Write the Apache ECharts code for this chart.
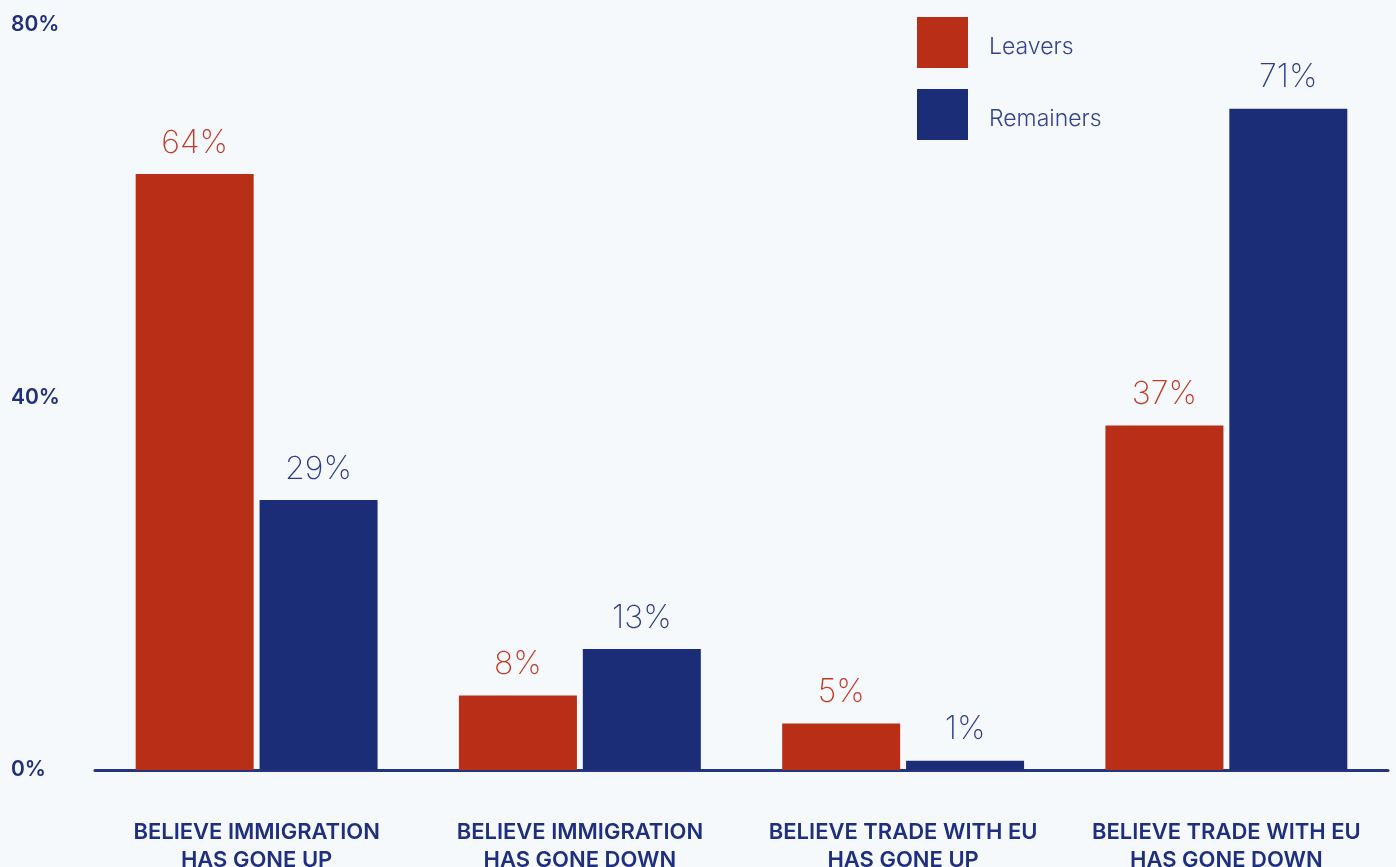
<!DOCTYPE html>
<html>
<head>
<meta charset="utf-8">
<title>Perceived change since Brexit</title>
<script src="https://cdn.jsdelivr.net/npm/echarts@6/dist/echarts.min.js"></script>
<style>
  html, body { margin: 0; padding: 0; background: #F6F9FC; }
  #chart { width: 1396px; height: 867px; }
</style>
</head>
<body>
<div id="chart"></div>
<script>
// Categories shown along the x axis
const categories = [
  'BELIEVE IMMIGRATION\nHAS GONE UP',
  'BELIEVE IMMIGRATION\nHAS GONE DOWN',
  'BELIEVE TRADE WITH EU\nHAS GONE UP',
  'BELIEVE TRADE WITH EU\nHAS GONE DOWN'
];
// Share of each group (%)
const leavers = [64, 8, 5, 37];
const remainers = [29, 13, 1, 71];
const seriesNames = ['Leavers', 'Remainers'];
// Value axis range and ticks (%)
const yMin = 0, yMax = 80, yStep = 40;

const FONT = 'Inter, "Noto Sans", sans-serif';
const RED = '#B82E17';
const NAVY = '#1C2D78';

const chart = echarts.init(document.getElementById('chart'), null, { renderer: 'canvas' });

function barSeries(name, data, color, labelColor) {
  return {
    name: name,
    type: 'bar',
    data: data,
    barWidth: 118,
    barGap: '5%',
    itemStyle: { color: color },
    label: {
      show: true,
      position: 'top',
      distance: 15,
      formatter: '{c}%',
      color: labelColor,
      fontFamily: FONT,
      fontSize: 32,
      fontWeight: 250
    }
  };
}

chart.setOption({
  backgroundColor: '#F6F9FC',
  animation: false,
  textStyle: { fontFamily: FONT },
  grid: {
    left: 95, right: 8, top: 25, bottom: 97,
    containLabel: false,
    outerBoundsMode: 'none'
  },
  legend: {
    orient: 'vertical',
    left: 917,
    top: 17,
    padding: 0,
    itemWidth: 51,
    itemHeight: 51,
    itemGap: 21,
    icon: 'rect',
    data: seriesNames,
    formatter: '{t|{name}}',
    textStyle: {
      color: '#34438E',
      fontFamily: FONT,
      fontSize: 23,
      fontWeight: 300,
      padding: [0, 0, 0, 16],
      rich: {
        t: {
          color: '#34438E',
          fontFamily: FONT,
          fontSize: 23,
          fontWeight: 300,
          padding: [9, 0, 0, 0]
        }
      }
    }
  },
  xAxis: {
    type: 'category',
    data: categories,
    axisLine: { show: true, lineStyle: { color: '#26357F', width: 3 } },
    axisTick: { show: false },
    axisLabel: {
      interval: 0,
      margin: 48,
      color: '#1F2F7E',
      fontFamily: FONT,
      fontSize: 22,
      fontWeight: 600,
      lineHeight: 28,
      align: 'center'
    }
  },
  yAxis: {
    type: 'value',
    min: yMin,
    max: yMax,
    interval: yStep,
    splitLine: { show: false },
    axisLine: { show: false },
    axisTick: { show: false },
    axisLabel: {
      formatter: '{value}%',
      align: 'left',
      margin: 84,
      color: '#1F2F7E',
      fontFamily: FONT,
      fontSize: 21,
      fontWeight: 600
    }
  },
  series: [
    barSeries(seriesNames[0], leavers, RED, '#C23A26'),
    barSeries(seriesNames[1], remainers, NAVY, '#2D3C88')
  ]
});
</script>
</body>
</html>
